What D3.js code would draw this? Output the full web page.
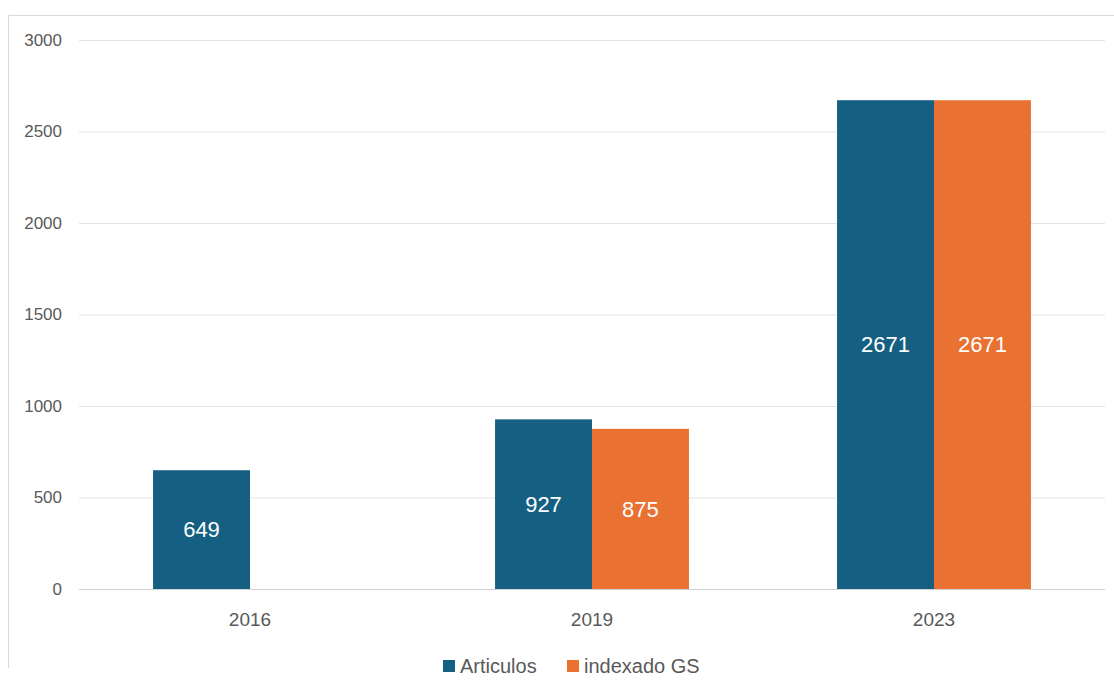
<!DOCTYPE html>
<html><head><meta charset="utf-8">
<script src="https://cdn.jsdelivr.net/npm/d3@7"></script>
<style>body{margin:0;background:#fff;}svg{display:block;font-family:"Liberation Sans",Arial,sans-serif;}</style>
</head><body>
<svg id="c" width="1114" height="692"></svg>
<script>
const categories = ["2016", "2019", "2023"];
const seriesNames = ["Articulos", "indexado GS"];
const articulos = [649, 927, 2671];
const indexadoGS = [null, 875, 2671];
const yTicks = [0, 500, 1000, 1500, 2000, 2500, 3000];
const colors = ["#156082", "#E97132"];

const svg = d3.select("#c");
svg.append("path").attr("d", "M8.5,668 L8.5,15.5 L1114,15.5").attr("fill","none").attr("stroke","#d9d9d9").attr("stroke-width",1);

const y = d3.scaleLinear().domain([0, 3000]).range([589, 40]);
const x0 = d3.scaleBand().domain(categories).range([79, 1105]).paddingInner(0.433).paddingOuter(0.2165);
const x1 = d3.scaleBand().domain(seriesNames).range([0, x0.bandwidth()]);

svg.append("g").selectAll("line").data(yTicks.filter(d=>d>0)).join("line")
  .attr("x1", 79).attr("x2", 1105).attr("y1", d=>y(d)+0.5).attr("y2", d=>y(d)+0.5)
  .attr("stroke", "#e3e3e3").attr("stroke-width", 1);

const yAxis = d3.axisLeft(y).tickValues(yTicks).tickFormat(d3.format("d")).tickSize(0).tickPadding(0);
const ga = svg.append("g").attr("transform", "translate(62,0)").call(yAxis);
ga.select(".domain").remove();
ga.selectAll("text").attr("font-size", 17).attr("fill", "#595959").attr("font-family","Liberation Sans, Arial, sans-serif").attr("dy","0.32em");

const data = categories.map((c,i)=>({cat:c, vals:[{s:seriesNames[0], v:articulos[i], ci:0},{s:seriesNames[1], v:indexadoGS[i], ci:1}]}));

const groups = svg.append("g").selectAll("g").data(data).join("g")
  .attr("transform", d=>`translate(${x0(d.cat)},0)`);
groups.selectAll("rect").data(d=>d.vals.filter(v=>v.v!=null)).join("rect")
  .attr("x", d=>x1(d.s)).attr("width", x1.bandwidth())
  .attr("y", d=>y(d.v)).attr("height", d=>y(0)-y(d.v))
  .attr("fill", d=>colors[d.ci]);
groups.selectAll("text").data(d=>d.vals.filter(v=>v.v!=null)).join("text")
  .attr("x", d=>x1(d.s)+x1.bandwidth()/2)
  .attr("y", d=>(y(d.v)+y(0))/2)
  .attr("text-anchor","middle").attr("dy","0.35em")
  .attr("font-size", 22).attr("fill","#fff").text(d=>d.v);

svg.append("line").attr("x1",79).attr("x2",1105).attr("y1",y(0)+0.5).attr("y2",y(0)+0.5).attr("stroke","#d0d0d0");

const xAxis = d3.axisBottom(x0).tickSize(0).tickPadding(0);
const gx = svg.append("g").attr("transform", `translate(0,${y(0)})`).call(xAxis);
gx.select(".domain").remove();
gx.selectAll("text").attr("font-size", 19).attr("fill","#595959").attr("font-family","Liberation Sans, Arial, sans-serif").attr("dy","0").attr("y", 37);

const legend = svg.append("g").attr("transform","translate(0,666)");
const items = [{x:443, s:seriesNames[0], c:colors[0]},{x:567, s:seriesNames[1], c:colors[1]}];
const li = legend.selectAll("g").data(items).join("g").attr("transform", d=>`translate(${d.x},0)`);
li.append("rect").attr("x",0).attr("y",-6).attr("width",12).attr("height",12).attr("fill",d=>d.c);
li.append("text").attr("x",17).attr("y",0).attr("dy","0.35em").attr("font-size",20).attr("fill","#595959").text(d=>d.s);
</script>
</body></html>
